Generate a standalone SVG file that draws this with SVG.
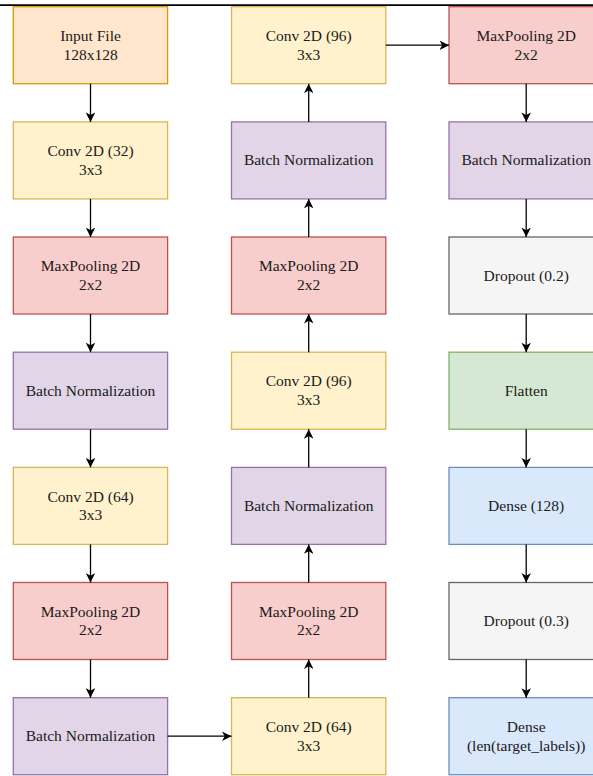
<svg xmlns="http://www.w3.org/2000/svg" width="593" height="776" viewBox="0 0 593 776">
<defs>
<style>
.n rect{stroke-width:1.3}
.n text{font-family:"Liberation Serif","Times New Roman",serif;font-size:15.5px;fill:#1a1a1a;text-anchor:middle}
.orange{fill:#ffe6cc;stroke:#d79b00}
.yellow{fill:#fff2cc;stroke:#d6b656}
.red{fill:#f8cecc;stroke:#b85450}
.purple{fill:#e1d5e7;stroke:#9673a6}
.gray{fill:#f5f5f5;stroke:#666666}
.green{fill:#d5e8d4;stroke:#82b366}
.blue{fill:#dae8fc;stroke:#6c8ebf}
.c path{fill:none;stroke:#000;stroke-width:1.3;marker-end:url(#ah)}
</style>
<marker id="ah" viewBox="0 0 10 10" refX="10" refY="5" markerWidth="9.5" markerHeight="9.5" markerUnits="userSpaceOnUse" orient="auto">
<path d="M0,0 L10,5 L0,10 L2.8,5 Z" fill="#000"/>
</marker>
</defs>
<rect width="593" height="776" fill="#fff"/>
<line x1="0" y1="5.2" x2="593" y2="5.2" stroke="#000" stroke-width="1.8"/>

<!-- Column 1 -->
<g id="input" class="n"><rect class="orange" x="13.3" y="6.7" width="154.3" height="77"/><text x="90.5" y="40.9">Input File</text><text x="90.5" y="59.5">128x128</text></g>
<g id="conv32" class="n"><rect class="yellow" x="13.3" y="121.9" width="154.3" height="77"/><text x="90.5" y="156.1">Conv 2D (32)</text><text x="90.5" y="174.7">3x3</text></g>
<g id="pool1" class="n"><rect class="red" x="13.3" y="237" width="154.3" height="77"/><text x="90.5" y="271.2">MaxPooling 2D</text><text x="90.5" y="289.8">2x2</text></g>
<g id="bn1" class="n"><rect class="purple" x="13.3" y="352.2" width="154.3" height="77"/><text x="90.5" y="395.7">Batch Normalization</text></g>
<g id="conv64a" class="n"><rect class="yellow" x="13.3" y="467.4" width="154.3" height="77"/><text x="90.5" y="501.6">Conv 2D (64)</text><text x="90.5" y="520.2">3x3</text></g>
<g id="pool2" class="n"><rect class="red" x="13.3" y="582.5" width="154.3" height="77"/><text x="90.5" y="616.7">MaxPooling 2D</text><text x="90.5" y="635.3">2x2</text></g>
<g id="bn2" class="n"><rect class="purple" x="13.3" y="697.7" width="154.3" height="77"/><text x="90.5" y="741.2">Batch Normalization</text></g>

<!-- Column 2 -->
<g id="conv64b" class="n"><rect class="yellow" x="231.5" y="697.7" width="154.3" height="77"/><text x="308.7" y="731.9">Conv 2D (64)</text><text x="308.7" y="750.5">3x3</text></g>
<g id="pool3" class="n"><rect class="red" x="231.5" y="582.5" width="154.3" height="77"/><text x="308.7" y="616.7">MaxPooling 2D</text><text x="308.7" y="635.3">2x2</text></g>
<g id="bn3" class="n"><rect class="purple" x="231.5" y="467.4" width="154.3" height="77"/><text x="308.7" y="510.9">Batch Normalization</text></g>
<g id="conv96a" class="n"><rect class="yellow" x="231.5" y="352.2" width="154.3" height="77"/><text x="308.7" y="386.4">Conv 2D (96)</text><text x="308.7" y="405">3x3</text></g>
<g id="pool4" class="n"><rect class="red" x="231.5" y="237" width="154.3" height="77"/><text x="308.7" y="271.2">MaxPooling 2D</text><text x="308.7" y="289.8">2x2</text></g>
<g id="bn4" class="n"><rect class="purple" x="231.5" y="121.9" width="154.3" height="77"/><text x="308.7" y="165.4">Batch Normalization</text></g>
<g id="conv96b" class="n"><rect class="yellow" x="231.5" y="6.7" width="154.3" height="77"/><text x="308.7" y="40.9">Conv 2D (96)</text><text x="308.7" y="59.5">3x3</text></g>

<!-- Column 3 -->
<g id="pool5" class="n"><rect class="red" x="449" y="6.7" width="154.3" height="77"/><text x="526.2" y="40.9">MaxPooling 2D</text><text x="526.2" y="59.5">2x2</text></g>
<g id="bn5" class="n"><rect class="purple" x="449" y="121.9" width="154.3" height="77"/><text x="526.2" y="165.4">Batch Normalization</text></g>
<g id="drop1" class="n"><rect class="gray" x="449" y="237" width="154.3" height="77"/><text x="526.2" y="280.5">Dropout (0.2)</text></g>
<g id="flatten" class="n"><rect class="green" x="449" y="352.2" width="154.3" height="77"/><text x="526.2" y="395.7">Flatten</text></g>
<g id="dense128" class="n"><rect class="blue" x="449" y="467.4" width="154.3" height="77"/><text x="526.2" y="510.9">Dense (128)</text></g>
<g id="drop2" class="n"><rect class="gray" x="449" y="582.5" width="154.3" height="77"/><text x="526.2" y="626">Dropout (0.3)</text></g>
<g id="denseout" class="n"><rect class="blue" x="449" y="697.7" width="154.3" height="77"/><text x="526.2" y="731.9">Dense</text><text x="526.2" y="750.5">(len(target_labels))</text></g>

<!-- Connectors -->
<g id="connectors" class="c">
<path d="M90.5,83.7 V121.9"/>
<path d="M90.5,198.9 V237"/>
<path d="M90.5,314 V352.2"/>
<path d="M90.5,429.2 V467.4"/>
<path d="M90.5,544.4 V582.5"/>
<path d="M90.5,659.5 V697.7"/>
<path d="M167.6,736.2 H231.5"/>
<path d="M308.7,697.7 V659.5"/>
<path d="M308.7,582.5 V544.4"/>
<path d="M308.7,467.4 V429.2"/>
<path d="M308.7,352.2 V314"/>
<path d="M308.7,237 V198.9"/>
<path d="M308.7,121.9 V83.7"/>
<path d="M385.8,45.2 H449"/>
<path d="M526.2,83.7 V121.9"/>
<path d="M526.2,198.9 V237"/>
<path d="M526.2,314 V352.2"/>
<path d="M526.2,429.2 V467.4"/>
<path d="M526.2,544.4 V582.5"/>
<path d="M526.2,659.5 V697.7"/>
</g>
</svg>
